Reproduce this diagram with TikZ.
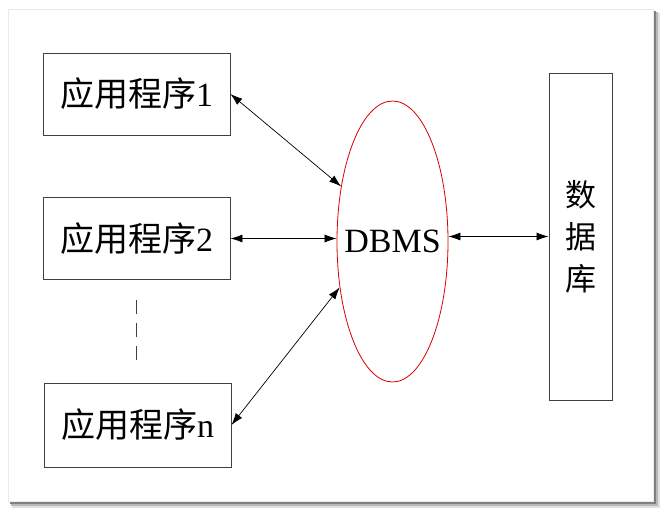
\documentclass[tikz,border=0pt]{standalone}
\usepackage{fontspec}
\setmainfont{Liberation Serif}
\newfontfamily\cjk{Noto Sans CJK SC}
\usetikzlibrary{shapes.geometric,arrows.meta}
\begin{document}
\begin{tikzpicture}[x=1pt,y=-1pt,
  appbox/.style={draw=black!75,line width=0.9pt,minimum width=187pt,minimum height=82pt,inner sep=0pt,
    font=\fontsize{34}{40}\selectfont},
  dbbox/.style={draw=black!75,line width=0.9pt,minimum width=63pt,minimum height=327pt,inner sep=0pt,
    align=center,font=\fontsize{31}{42}\selectfont\cjk},
  dbmsnode/.style={ellipse,draw=red!85!black,line width=0.8pt,minimum width=111pt,minimum height=281pt,inner sep=0pt},
  dbmstext/.style={font=\fontsize{34}{40}\selectfont,inner sep=0pt},
  link/.style={line width=0.7pt,{Latex[length=12pt,width=8pt]}-{Latex[length=12pt,width=8pt]}}
]
\useasboundingbox (0,0) rectangle (668,516);
% panel with shadow
\fill[black!12] (12,13) rectangle (660,508);
\fill[black!28] (11,12) rectangle (658,506);
\fill[black!50] (10,11) rectangle (656,504);
\fill[white,draw=black!8] (8,9) rectangle (653,501);

\node[appbox] (b1) at (136.5,94) {{\cjk 应用程序}1};
\node[appbox] (b2) at (136.5,238.5) {{\cjk 应用程序}2};
\node[appbox,minimum height=84pt] (bn) at (137.5,425) {{\cjk 应用程序}n};
\node[dbmsnode] (dbms) at (392.5,241.5) {};
\node[dbmstext] (dbmsl) at (dbms.center) {DBMS};
\node[dbbox] (db) at (580.5,236.5) {数\\据\\库};

\coordinate (d1) at (136,300);
\coordinate (d2) at (136,362);
\draw[black!75,line width=0.9pt,dash pattern=on 14pt off 9pt] (d1) -- (d2);

\draw[link] (b1.east) -- (dbms.133);
\draw[link] (b2.east) -- (b2.east -| dbms.west);
\draw[link] (bn.east) -- (dbms.221);
\draw[link] (db.west -| dbms.east) -- (db.west);
\end{tikzpicture}
\end{document}
